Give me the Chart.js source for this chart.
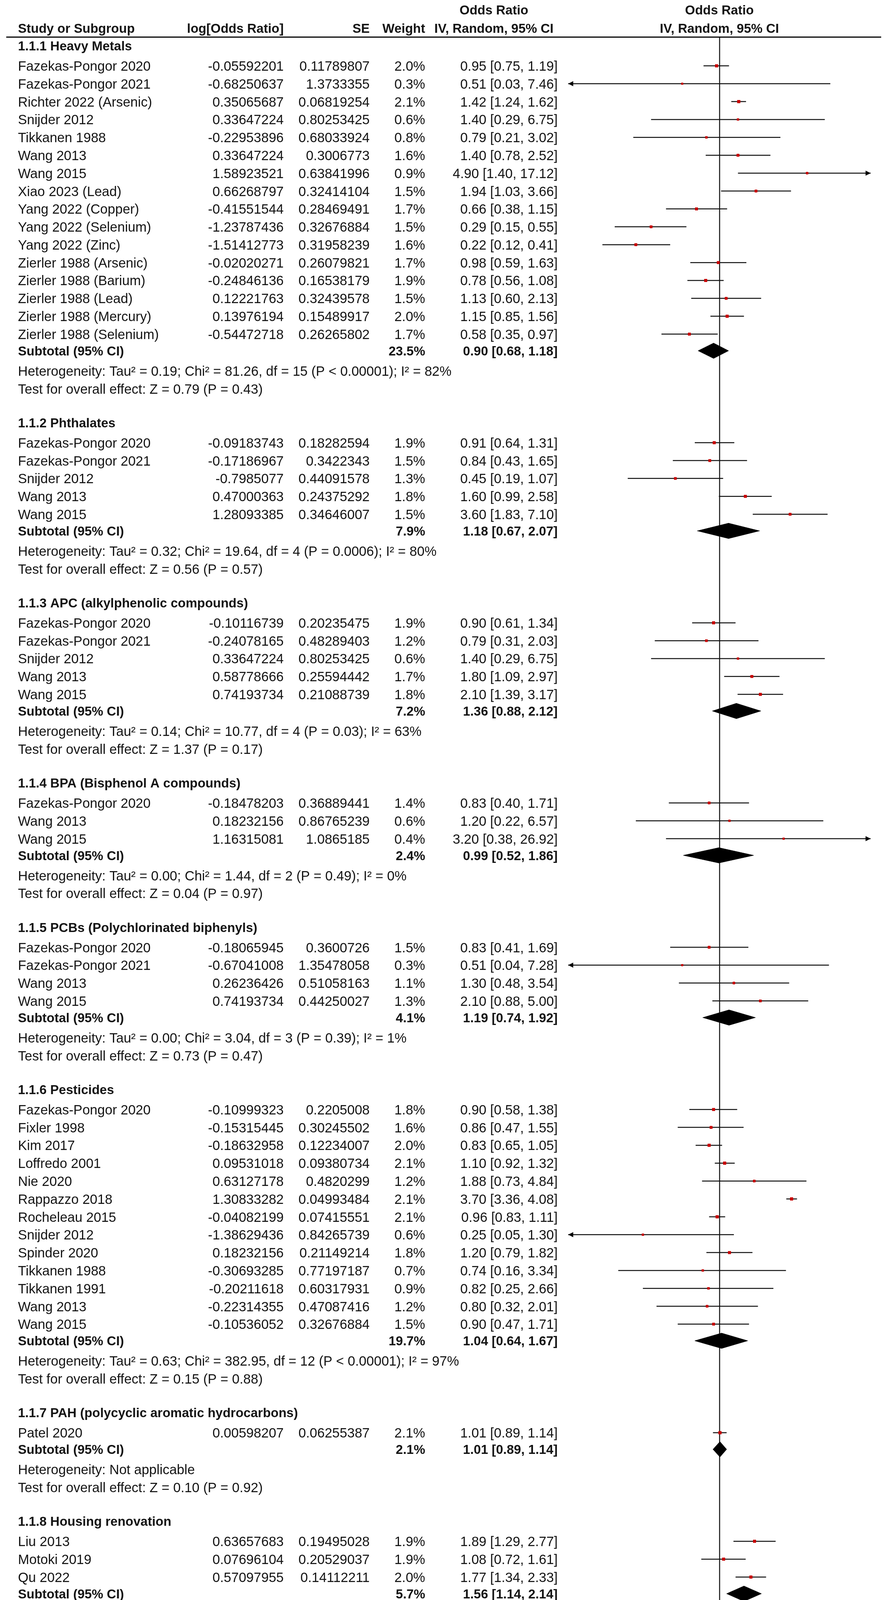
<!DOCTYPE html>
<html>
<head>
<meta charset="utf-8">
<title>Forest plot - Odds Ratio</title>
<script src="https://cdn.jsdelivr.net/npm/chart.js@4.4.1/dist/chart.umd.min.js"></script>
<style>
  html, body { margin: 0; padding: 0; background: #fff; }
  canvas { display: block; }
</style>
</head>
<body>
<canvas id="forest" width="2275" height="5688"></canvas>
<script>
//------ data
const groupNames = [
  '1.1.1 Heavy Metals', '1.1.2 Phthalates', '1.1.3 APC (alkylphenolic compounds)',
  '1.1.4 BPA (Bisphenol A compounds)', '1.1.5 PCBs (Polychlorinated biphenyls)',
  '1.1.6 Pesticides', '1.1.7 PAH (polycyclic aromatic hydrocarbons)',
  '1.1.8 Housing renovation', '1.1.9 Solvents', '1.1.10 Others'
];

const studyGroup = [
  0,0,0,0,0,0,0,0,0,0,0,0,0,0,0,0,
  1,1,1,1,1,
  2,2,2,2,2,
  3,3,3,
  4,4,4,4,
  5,5,5,5,5,5,5,5,5,5,5,5,5,
  6,
  7,7,7,
  8,8,8,8,8,8,8,8,8,8,
  9,9,9,9,9,9,9
];

const studyNames = [
  'Fazekas-Pongor 2020','Fazekas-Pongor 2021','Richter 2022 (Arsenic)','Snijder 2012','Tikkanen 1988',
  'Wang 2013','Wang 2015','Xiao 2023 (Lead)','Yang 2022 (Copper)','Yang 2022 (Selenium)','Yang 2022 (Zinc)',
  'Zierler 1988 (Arsenic)','Zierler 1988 (Barium)','Zierler 1988 (Lead)','Zierler 1988 (Mercury)','Zierler 1988 (Selenium)',
  'Fazekas-Pongor 2020','Fazekas-Pongor 2021','Snijder 2012','Wang 2013','Wang 2015',
  'Fazekas-Pongor 2020','Fazekas-Pongor 2021','Snijder 2012','Wang 2013','Wang 2015',
  'Fazekas-Pongor 2020','Wang 2013','Wang 2015',
  'Fazekas-Pongor 2020','Fazekas-Pongor 2021','Wang 2013','Wang 2015',
  'Fazekas-Pongor 2020','Fixler 1998','Kim 2017','Loffredo 2001','Nie 2020','Rappazzo 2018','Rocheleau 2015',
  'Snijder 2012','Spinder 2020','Tikkanen 1988','Tikkanen 1991','Wang 2013','Wang 2015',
  'Patel 2020',
  'Liu 2013','Motoki 2019','Qu 2022',
  'Fazekas-Pongor 2020','Forand 2011','Garcia 1998','Gilboa 2012','Gong 2017','Motoki 2019','Nie 2020',
  'Spinder 2020','Tikkanen 1988','Tikkanen 1991',
  'Cresci 2011','Fazekas-Pongor 2020','Fixler 1998 (Hair dyes)','Fixler 1998 (Paints)','Snijder 2012',
  'Spinder 2020','Zhang 2022'
];

const logOR = [
  -0.05592201, -0.68250637, 0.35065687, 0.33647224, -0.22953896, 0.33647224, 1.58923521, 0.66268797,
  -0.41551544, -1.23787436, -1.51412773, -0.02020271, -0.24846136, 0.12221763, 0.13976194, -0.54472718,
  -0.09183743, -0.17186967, -0.7985077, 0.47000363, 1.28093385,
  -0.10116739, -0.24078165, 0.33647224, 0.58778666, 0.74193734,
  -0.18478203, 0.18232156, 1.16315081,
  -0.18065945, -0.67041008, 0.26236426, 0.74193734,
  -0.10999323, -0.15315445, -0.18632958, 0.09531018, 0.63127178, 1.30833282, -0.04082199,
  -1.38629436, 0.18232156, -0.30693285, -0.20211618, -0.22314355, -0.10536052,
  0.00598207,
  0.63657683, 0.07696104, 0.57097955,
  -0.3367141, -0.12054553, -0.35543171, 0.09531018, 0.58221562, -0.05129329, 1.49065438,
  -0.05129329, -0.51483364, 0.3074847,
  -0.12234007, -0.05843535, -0.18723703, -0.18090498, -0.08338161, 0.03922071, 0.50077529
];

const seVals = [
  0.11789807, 1.3733355, 0.06819254, 0.80253425, 0.68033924, 0.3006773, 0.63841996, 0.32414104,
  0.28469491, 0.32676884, 0.31958239, 0.26079821, 0.16538179, 0.32439578, 0.15489917, 0.26265802,
  0.18282594, 0.3422343, 0.44091578, 0.24375292, 0.34646007,
  0.20235475, 0.48289403, 0.80253425, 0.25594442, 0.21088739,
  0.36889441, 0.86765239, 1.0865185,
  0.3600726, 1.35478058, 0.51058163, 0.44250027,
  0.2205008, 0.30245502, 0.12234007, 0.09380734, 0.4820299, 0.04993484, 0.07415551,
  0.84265739, 0.21149214, 0.77197187, 0.60317931, 0.47087416, 0.32676884,
  0.06255387,
  0.19495028, 0.20529037, 0.14112211,
  0.67448249, 0.24278601, 0.71196077, 0.11271244, 0.32301175, 0.12753978, 0.36620441,
  0.08037782, 0.32522036, 0.17922034,
  0.24619411, 0.11789807, 0.37270865, 0.31259286, 0.64431853, 0.07338828, 0.2918761
];

const weights = [
  2.0, 0.3, 2.1, 0.6, 0.8, 1.6, 0.9, 1.5, 1.7, 1.5, 1.6, 1.7, 1.9, 1.5, 2.0, 1.7,
  1.9, 1.5, 1.3, 1.8, 1.5,
  1.9, 1.2, 0.6, 1.7, 1.8,
  1.4, 0.6, 0.4,
  1.5, 0.3, 1.1, 1.3,
  1.8, 1.6, 2.0, 2.1, 1.2, 2.1, 2.1, 0.6, 1.8, 0.7, 0.9, 1.2, 1.5,
  2.1,
  1.9, 1.9, 2.0,
  0.8, 1.8, 0.8, 2.0, 1.6, 2.0, 1.4, 2.1, 1.5, 1.9,
  1.8, 2.0, 1.4, 1.6, 0.9, 2.1, 1.6
];

const orVals = [
  0.95, 0.51, 1.42, 1.40, 0.79, 1.40, 4.90, 1.94, 0.66, 0.29, 0.22, 0.98, 0.78, 1.13, 1.15, 0.58,
  0.91, 0.84, 0.45, 1.60, 3.60,
  0.90, 0.79, 1.40, 1.80, 2.10,
  0.83, 1.20, 3.20,
  0.83, 0.51, 1.30, 2.10,
  0.90, 0.86, 0.83, 1.10, 1.88, 3.70, 0.96, 0.25, 1.20, 0.74, 0.82, 0.80, 0.90,
  1.01,
  1.89, 1.08, 1.77,
  0.71, 0.89, 0.70, 1.10, 1.79, 0.95, 4.44, 0.95, 0.60, 1.36,
  0.88, 0.94, 0.83, 0.83, 0.92, 1.04, 1.65
];

const ciLow = [
  0.75, 0.03, 1.24, 0.29, 0.21, 0.78, 1.40, 1.03, 0.38, 0.15, 0.12, 0.59, 0.56, 0.60, 0.85, 0.35,
  0.64, 0.43, 0.19, 0.99, 1.83,
  0.61, 0.31, 0.29, 1.09, 1.39,
  0.40, 0.22, 0.38,
  0.41, 0.04, 0.48, 0.88,
  0.58, 0.47, 0.65, 0.92, 0.73, 3.36, 0.83, 0.05, 0.79, 0.16, 0.25, 0.32, 0.47,
  0.89,
  1.29, 0.72, 1.34,
  0.19, 0.55, 0.17, 0.88, 0.95, 0.74, 2.17, 0.81, 0.32, 0.96,
  0.55, 0.75, 0.40, 0.45, 0.26, 0.90, 0.93
];

const ciHigh = [
  1.19, 7.46, 1.62, 6.75, 3.02, 2.52, 17.12, 3.66, 1.15, 0.55, 0.41, 1.63, 1.08, 2.13, 1.56, 0.97,
  1.31, 1.65, 1.07, 2.58, 7.10,
  1.34, 2.03, 6.75, 2.97, 3.17,
  1.71, 6.57, 26.92,
  1.69, 7.28, 3.54, 5.00,
  1.38, 1.55, 1.05, 1.32, 4.84, 4.08, 1.11, 1.30, 1.82, 3.34, 2.66, 2.01, 1.71,
  1.14,
  2.77, 1.61, 2.33,
  2.68, 1.43, 2.83, 1.37, 3.37, 1.22, 9.10, 1.11, 1.13, 1.93,
  1.43, 1.19, 1.72, 1.54, 3.25, 1.20, 2.92
];

const subWeight = [23.5, 7.9, 7.2, 2.4, 4.1, 19.7, 2.1, 5.7, 15.9, 11.4];
const subOR = [0.90, 1.18, 1.36, 0.99, 1.19, 1.04, 1.01, 1.56, 1.12, 1.01];
const subLow = [0.68, 0.67, 0.88, 0.52, 0.74, 0.64, 0.89, 1.14, 0.90, 0.90];
const subHigh = [1.18, 2.07, 2.12, 1.86, 1.92, 1.67, 1.14, 2.14, 1.39, 1.13];

const hetText = [
  'Heterogeneity: Tau² = 0.19; Chi² = 81.26, df = 15 (P < 0.00001); I² = 82%',
  'Heterogeneity: Tau² = 0.32; Chi² = 19.64, df = 4 (P = 0.0006); I² = 80%',
  'Heterogeneity: Tau² = 0.14; Chi² = 10.77, df = 4 (P = 0.03); I² = 63%',
  'Heterogeneity: Tau² = 0.00; Chi² = 1.44, df = 2 (P = 0.49); I² = 0%',
  'Heterogeneity: Tau² = 0.00; Chi² = 3.04, df = 3 (P = 0.39); I² = 1%',
  'Heterogeneity: Tau² = 0.63; Chi² = 382.95, df = 12 (P < 0.00001); I² = 97%',
  'Heterogeneity: Not applicable',
  'Heterogeneity: Tau² = 0.05; Chi² = 4.91, df = 2 (P = 0.09); I² = 59%',
  'Heterogeneity: Tau² = 0.06; Chi² = 26.75, df = 9 (P = 0.002); I² = 66%',
  'Heterogeneity: Tau² = 0.00; Chi² = 4.28, df = 6 (P = 0.64); I² = 0%'
];

const effectText = [
  'Test for overall effect: Z = 0.79 (P = 0.43)',
  'Test for overall effect: Z = 0.56 (P = 0.57)',
  'Test for overall effect: Z = 1.37 (P = 0.17)',
  'Test for overall effect: Z = 0.04 (P = 0.97)',
  'Test for overall effect: Z = 0.73 (P = 0.47)',
  'Test for overall effect: Z = 0.15 (P = 0.88)',
  'Test for overall effect: Z = 0.10 (P = 0.92)',
  'Test for overall effect: Z = 2.75 (P = 0.006)',
  'Test for overall effect: Z = 0.99 (P = 0.32)',
  'Test for overall effect: Z = 0.20 (P = 0.84)'
];

const totalWeight = 100.0;
const totalOR = 1.08, totalLow = 0.93, totalHigh = 1.26;
const totalLines = [
  'Heterogeneity: Tau² = 0.28; Chi² = 711.41, df = 66 (P < 0.00001); I² = 91%',
  'Test for overall effect: Z = 1.04 (P = 0.30)',
  'Test for subgroup differences: Chi² = 10.31, df = 9 (P = 0.33), I² = 12.7%'
];

const xTicks = [0.1, 0.2, 0.5, 1, 2, 5, 10];
const tickLabels = ['0.1', '0.2', '0.5', '1', '2', '5', '10'];

//------ layout (in row units)
const FONT = '"Liberation Sans", Arial, sans-serif';
const REG = '34.5px ' + FONT;
const BOLD = 'bold 33px ' + FONT;
const TEXT_DY = 3;
const COL = { name: 46, logOR: 726, se: 946, weight: 1088, ci: 1427, ciHead: 1264 };

let u = 0;
const headU = [], studyU = [], subU = [], hetU = [], testU = [];
groupNames.forEach((g, gi) => {
  if (gi > 0) u += 1.89;
  headU[gi] = u;
  u += 1.125;
  let first = true;
  studyGroup.forEach((sg, i) => {
    if (sg !== gi) return;
    if (!first) u += 1;
    first = false;
    studyU[i] = u;
  });
  u += 0.93; subU[gi] = u;
  u += 1.125; hetU[gi] = u;
  u += 1; testU[gi] = u;
});
u += 1.9; const totalU = u;
const totalLineU = [totalU + 1.125, totalU + 2.125, totalU + 3.125];

const fmt2 = v => v.toFixed(2);
const ciStr = (o, l, h) => fmt2(o) + ' [' + fmt2(l) + ', ' + fmt2(h) + ']';

//------ datasets
const ciData = [];
studyNames.forEach((s, i) => {
  ciData.push({ x: ciLow[i], y: studyU[i] }, { x: ciHigh[i], y: studyU[i] }, { x: ciHigh[i], y: null });
});

const squareData = orVals.map((o, i) => ({ x: o, y: studyU[i] }));
const squareRadius = weights.map(w => (5 + 1.5 * w) / Math.SQRT2);

const DH = 0.43; // diamond half height
function diamond(o, l, h, yy) {
  return {
    type: 'line',
    data: [{ x: l, y: yy }, { x: o, y: yy - DH }, { x: h, y: yy }, { x: o, y: yy + DH }, { x: l, y: yy }],
    borderColor: '#000', backgroundColor: '#000', borderWidth: 1,
    pointRadius: 0, fill: 'shape', tension: 0, order: 2
  };
}

const datasets = [
  {
    type: 'line', data: squareData, showLine: false, pointStyle: 'rect',
    pointRadius: squareRadius, pointBackgroundColor: '#c80000', pointBorderWidth: 0, order: 0
  },
  {
    type: 'line', data: ciData, borderColor: '#111', borderWidth: 2.5,
    pointRadius: 0, spanGaps: false, fill: false, order: 1
  }
];
subOR.forEach((o, gi) => datasets.push(diamond(o, subLow[gi], subHigh[gi], subU[gi])));
datasets.push(diamond(totalOR, totalLow, totalHigh, totalU));

//------ text, arrows, ticks
const forestText = {
  id: 'forestText',
  afterDraw(chart) {
    const { ctx, chartArea: a, scales: { x, y } } = chart;
    const ty = v => y.getPixelForValue(v) + TEXT_DY;
    const put = (s, px, py, align, bold) => {
      ctx.font = bold ? BOLD : REG;
      ctx.textAlign = align;
      ctx.fillText(s, px, py);
    };
    ctx.save();
    ctx.fillStyle = '#141414';
    ctx.textBaseline = 'middle';

    // header
    const h1 = a.top - 67, h2 = a.top - 20;
    put('Study or Subgroup', COL.name, h2, 'left', true);
    put('log[Odds Ratio]', COL.logOR, h2, 'right', true);
    put('SE', COL.se, h2, 'right', true);
    put('Weight', COL.weight, h2, 'right', true);
    put('Odds Ratio', COL.ciHead, h1, 'center', true);
    put('IV, Random, 95% CI', COL.ciHead, h2, 'center', true);
    const one = x.getPixelForValue(1);
    put('Odds Ratio', one, h1, 'center', true);
    put('IV, Random, 95% CI', one, h2, 'center', true);

    ctx.strokeStyle = '#000';
    ctx.lineWidth = 3;
    ctx.beginPath();
    ctx.moveTo(16, a.top); ctx.lineTo(2255, a.top);
    ctx.stroke();

    // groups
    groupNames.forEach((g, gi) => {
      put(g, COL.name, ty(headU[gi]), 'left', true);
      put('Subtotal (95% CI)', COL.name, ty(subU[gi]), 'left', true);
      put(subWeight[gi].toFixed(1) + '%', COL.weight, ty(subU[gi]), 'right', true);
      put(ciStr(subOR[gi], subLow[gi], subHigh[gi]), COL.ci, ty(subU[gi]), 'right', true);
      put(hetText[gi], COL.name, ty(hetU[gi]), 'left', false);
      put(effectText[gi], COL.name, ty(testU[gi]), 'left', false);
    });

    // studies
    studyNames.forEach((s, i) => {
      const py = ty(studyU[i]);
      put(s, COL.name, py, 'left', false);
      put(String(logOR[i]), COL.logOR, py, 'right', false);
      put(String(seVals[i]), COL.se, py, 'right', false);
      put(weights[i].toFixed(1) + '%', COL.weight, py, 'right', false);
      put(ciStr(orVals[i], ciLow[i], ciHigh[i]), COL.ci, py, 'right', false);
    });

    // total
    put('Total (95% CI)', COL.name, ty(totalU), 'left', true);
    put(totalWeight.toFixed(1) + '%', COL.weight, ty(totalU), 'right', true);
    put(ciStr(totalOR, totalLow, totalHigh), COL.ci, ty(totalU), 'right', true);
    totalLines.forEach((t, k) => put(t, COL.name, ty(totalLineU[k]), 'left', false));

    // arrows for CIs running off the scale
    ctx.fillStyle = '#000';
    studyNames.forEach((s, i) => {
      const py = y.getPixelForValue(studyU[i]);
      if (ciLow[i] < x.min) {
        ctx.beginPath();
        ctx.moveTo(a.left, py); ctx.lineTo(a.left + 13, py - 6.5); ctx.lineTo(a.left + 13, py + 6.5);
        ctx.closePath(); ctx.fill();
      }
      if (ciHigh[i] > x.max) {
        ctx.beginPath();
        ctx.moveTo(a.right, py); ctx.lineTo(a.right - 13, py - 6.5); ctx.lineTo(a.right - 13, py + 6.5);
        ctx.closePath(); ctx.fill();
      }
    });

    // tick marks pointing up
    ctx.strokeStyle = '#000';
    ctx.lineWidth = 2.5;
    x.ticks.forEach(t => {
      const px = x.getPixelForValue(t.value);
      ctx.beginPath();
      ctx.moveTo(px, a.bottom); ctx.lineTo(px, a.bottom - 12);
      ctx.stroke();
    });

    // favours labels
    ctx.fillStyle = '#141414';
    put('Non-Exposure', one - 18, 5625, 'right', false);
    put('Exposure', one + 16, 5625, 'left', false);
    ctx.restore();
  }
};

//------ chart
new Chart(document.getElementById('forest'), {
  type: 'line',
  data: { datasets },
  options: {
    responsive: false,
    animation: false,
    devicePixelRatio: 1,
    events: [],
    layout: { padding: { left: 1454, right: 47, top: 95, bottom: 0 } },
    plugins: { legend: { display: false }, tooltip: { enabled: false } },
    scales: {
      x: {
        type: 'logarithmic',
        min: Math.pow(10, -1.19),
        max: Math.pow(10, 1.19),
        afterBuildTicks: s => { s.ticks = xTicks.map(v => ({ value: v })); },
        afterFit: s => { s.height = 134; },
        ticks: {
          autoSkip: false, maxRotation: 0, padding: 12,
          color: '#141414', font: { family: FONT, size: 34 },
          callback: v => tickLabels[xTicks.indexOf(v)]
        },
        grid: {
          drawTicks: false,
          lineWidth: 3,
          color: c => (c.tick && c.tick.value === 1 ? '#333' : 'rgba(0,0,0,0)')
        },
        border: { display: true, color: '#000', width: 3 }
      },
      y: {
        type: 'linear',
        display: false,
        reverse: true,
        min: -0.4805,
        max: 118.74
      }
    }
  },
  plugins: [forestText]
});
</script>
</body>
</html>
